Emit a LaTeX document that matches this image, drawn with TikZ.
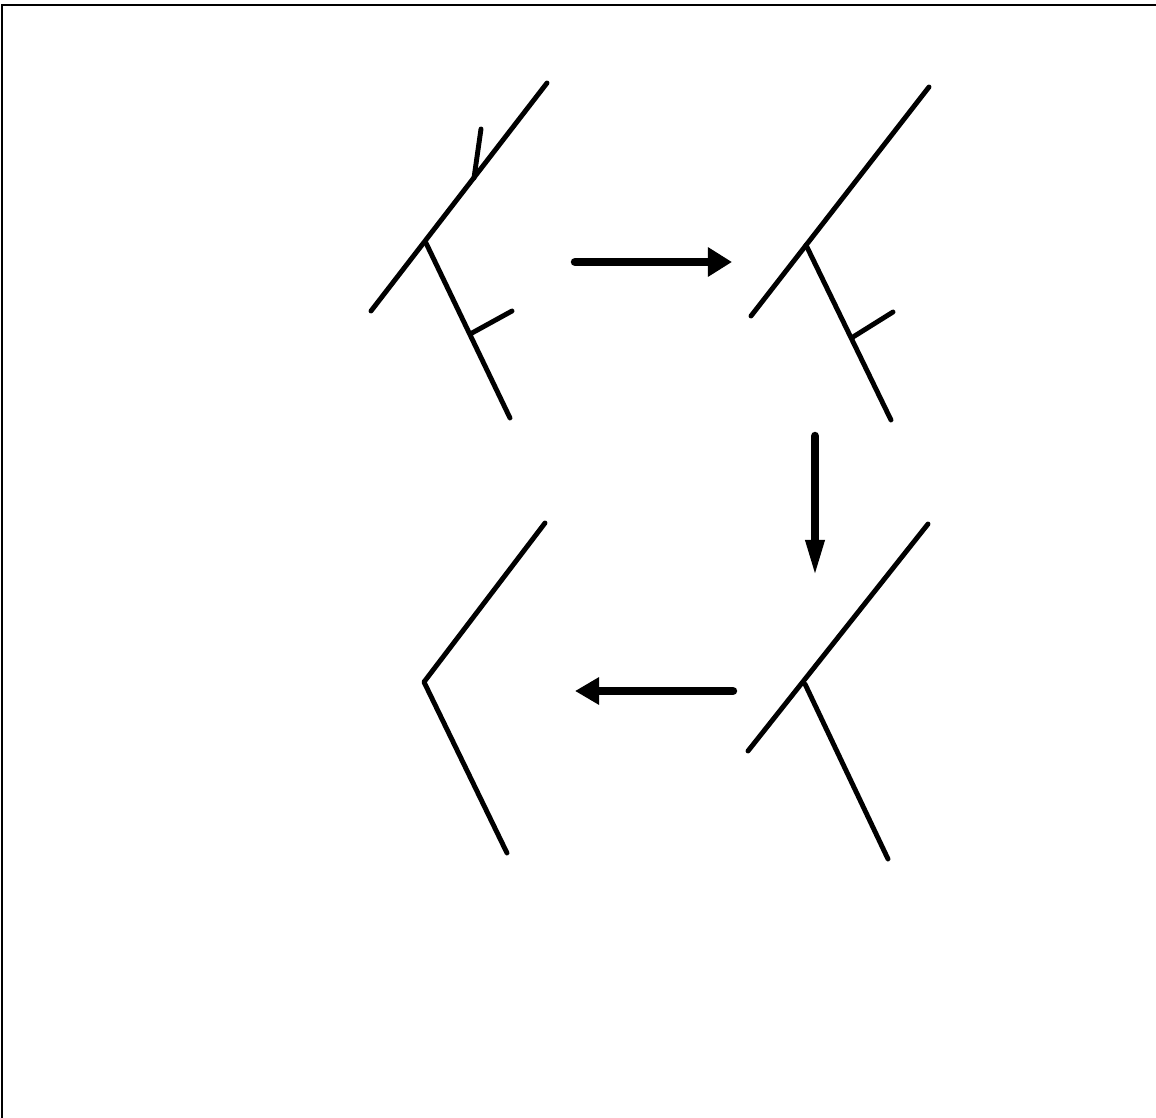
\documentclass[tikz,border=0pt]{standalone}
\usepackage{tikz}
\usetikzlibrary{calc,arrows.meta}

\begin{document}
\begin{tikzpicture}[x=0.01cm,y=-0.01cm,
    limb/.style={line width=1.4pt, line cap=round, line join=round},
    flow/.style={line width=2.4pt, line cap=round}]
  \useasboundingbox (0,0) rectangle (1156,1118);

  % Frame (top and left edges only)
  \draw[line width=0.6pt] (2,1118) -- (2,5) -- (1156,5);

  % Stage 1: stem with side branch and two small twigs
  \draw[limb] (371,311) -- (547,83);
  \draw[limb] (426,243) -- (510,418);
  \draw[limb] (474,178) -- (481,129);         % twig on the stem
  \draw[limb] (472,333) -- (512,311);         % twig on the branch

  % Stage 2: upper twig gone
  \draw[limb] (751,316) -- (929,87);
  \draw[limb] (806,245) -- (891,420);
  \draw[limb] (853,337) -- (893,312);

  % Stage 3: both twigs gone
  \draw[limb] (748,751) -- (928,524);
  \draw[limb] (805,684) -- (888,859);

  % Stage 4: stem cut back at the fork
  \draw[limb] (545,523) -- (424,682) -- (507,853);

  % Arrows between the stages
  \coordinate (a1) at (575,262);
  \coordinate (b1) at (732,262);
  \coordinate (a2) at (815,436);
  \coordinate (b2) at (815,578);
  \coordinate (a3) at (733,691);
  \coordinate (b3) at (575,691);
  \draw[flow, -{Triangle[length=2.4mm,width=2.8mm]}] (a1) -- (b1);
  \draw[flow, -{Triangle[length=3.8mm,width=1.7mm]}] (a2) -- (b2);
  \draw[flow, -{Triangle[length=2.4mm,width=2.6mm]}] (a3) -- (b3);

\end{tikzpicture}
\end{document}
